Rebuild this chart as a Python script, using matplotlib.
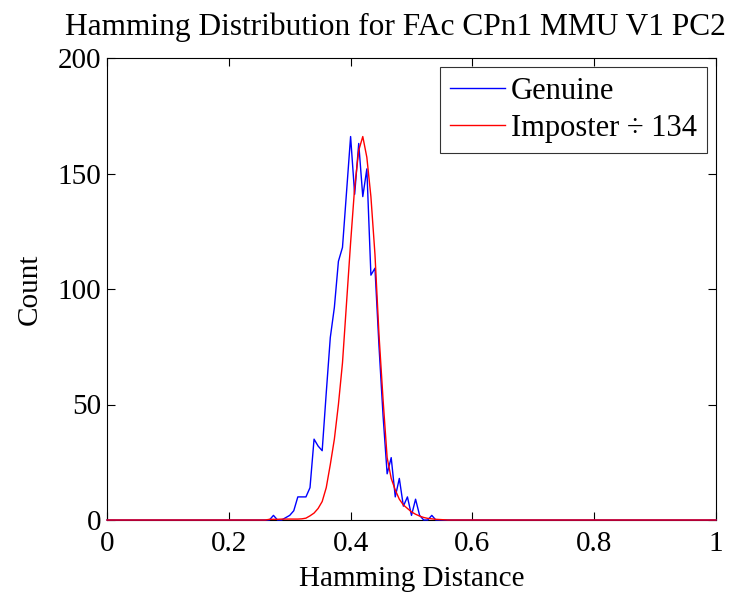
import matplotlib
matplotlib.use("Agg")
import matplotlib.pyplot as plt
import numpy as np

# Hamming distance bins (150-bit codes)
n_bits = 150
bin_start = 40

# counts per bin, starting at bin 40 (distance 40/150)
genuine_counts = [0, 2, 0, 0, 1, 2, 4, 10, 10, 10, 14, 35, 32, 30, 55, 79,
                  92, 112, 118, 142, 166, 141, 163, 140, 152, 106, 109, 75,
                  45, 20, 27, 10, 18, 6, 10, 2, 9, 2, 0, 0, 2, 0]
imposter_scaled = [0.3, 0.3, 0.3, 0.4, 0.4, 0.4, 0.4, 0.4, 0.5, 0.8, 1.8, 3,
                   5, 8, 14, 24, 35, 50, 68, 94, 120, 144, 160, 166, 157, 140,
                   115, 80, 52, 27, 18, 13, 9, 6.5, 5, 3.5, 2.5, 1.7, 1.1, 0.7,
                   0.5, 0.3, 0.2, 0.1, 0]

x = np.arange(n_bits + 1) / n_bits
genuine = np.zeros(n_bits + 1)
genuine[bin_start:bin_start + len(genuine_counts)] = genuine_counts
imposter = np.zeros(n_bits + 1)
imposter[bin_start:bin_start + len(imposter_scaled)] = imposter_scaled

plt.rcParams["font.family"] = ["Liberation Serif", "DejaVu Serif"]

fig = plt.figure(figsize=(7.34, 5.95), dpi=100)
ax = fig.add_axes([107/734, 1 - 520/595, (716 - 107)/734, (520 - 58)/595])

ax.plot(x, genuine, color="blue", lw=1.0, label="Genuine", zorder=3, clip_on=False)
ax.plot(x, imposter, color="red", lw=1.0, label="Imposter \u00f7 134", zorder=3, clip_on=False)

ax.set_xlim(0, 1)
ax.set_ylim(0, 200)
ax.set_xticks([0, 0.2, 0.4, 0.6, 0.8, 1])
ax.set_xticklabels(["0", "0.2", "0.4", "0.6", "0.8", "1"])
ax.set_yticks([0, 50, 100, 150, 200])
ax.tick_params(direction="in", top=True, right=True, labelsize=21,
               length=6, width=0.8)
ax.tick_params(axis="x", pad=8)
ax.tick_params(axis="y", pad=4)
for s in ax.spines.values():
    s.set_linewidth(0.8)

ax.set_xlabel("Hamming Distance", fontsize=21, labelpad=6.5)
ax.set_ylabel("Count", fontsize=21, labelpad=11)
ax.set_title("Hamming Distribution for FAc CPn1 MMU V1 PC2", fontsize=22.6,
             pad=16.5, x=0.473)

leg = ax.legend(loc="upper right", fontsize=22, frameon=True, fancybox=False,
                edgecolor="black", borderaxespad=0.29, handlelength=1.8,
                handletextpad=0.2, borderpad=0.33, labelspacing=0.25)
leg.get_frame().set_linewidth(0.8)

fig.savefig("out.png", dpi=100)
